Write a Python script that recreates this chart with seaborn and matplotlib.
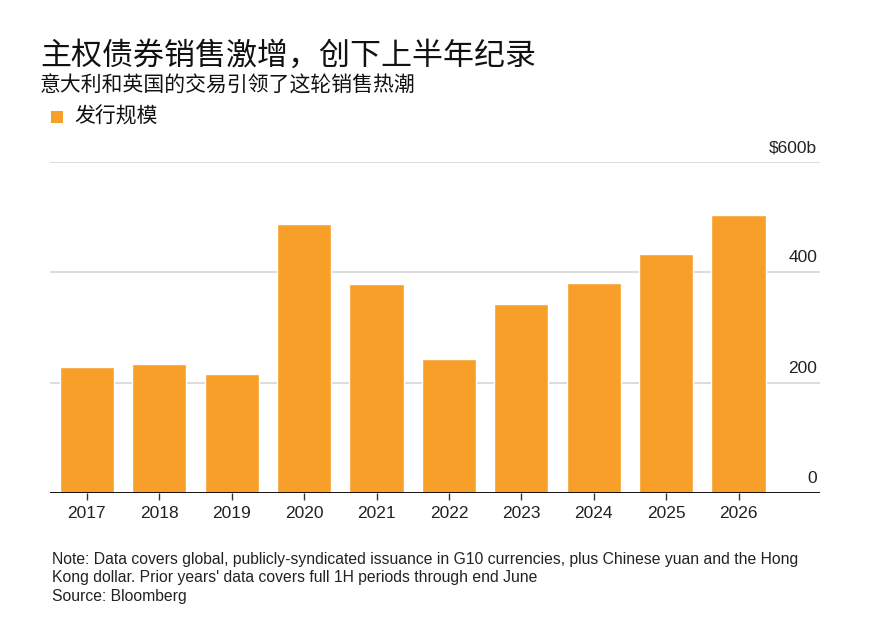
import pandas as pd
import matplotlib.pyplot as plt
import seaborn as sns

# Chart data
years = ['2017', '2018', '2019', '2020', '2021', '2022', '2023', '2024', '2025', '2026']
issuance = [229, 234, 215, 488, 378, 242, 342, 380, 433, 504]
y_ticks = [0, 200, 400, 600]
y_labels = ['0', '200', '400', '$600b']

title = '主权债券销售激增，创下上半年纪录'
subtitle = '意大利和英国的交易引领了这轮销售热潮'
legend_label = '发行规模'
note = ("Note: Data covers global, publicly-syndicated issuance in G10 currencies, plus Chinese yuan and the Hong\n"
        "Kong dollar. Prior years' data covers full 1H periods through end June\n"
        "Source: Bloomberg")

bar_color = '#F89F2A'
cjk = ['Noto Sans CJK SC', 'DejaVu Sans']
narrow = ['Liberation Sans Narrow', 'Liberation Sans', 'DejaVu Sans']

sns.set_style('white')
plt.rcParams['font.family'] = cjk

df = pd.DataFrame({'year': years, 'value': issuance})

fig = plt.figure(figsize=(8.7, 6.27), dpi=100)
ax = fig.add_axes([50 / 870, 1 - 493 / 627, 770 / 870, (493 - 162) / 627])

sns.barplot(data=df, x='year', y='value', color=bar_color, saturation=1, width=0.75, ax=ax, zorder=3)

ax.set_ylim(0, 600)
ax.set_xlim(-0.51, len(years) - 1 + 1.125)
ax.set_xlabel('')
ax.set_ylabel('')

# gridlines
for t in y_ticks[1:]:
    ax.axhline(t, color='#d6d6d6', lw=1.2, zorder=1)
ax.axhline(0, color='black', lw=1.3, zorder=4)

for s in ax.spines.values():
    s.set_visible(False)

ax.set_yticks([])
for t, lab in zip(y_ticks, y_labels):
    ax.annotate(lab, xy=(1, t), xycoords=('axes fraction', 'data'), xytext=(-2, 5), textcoords='offset points',
                ha='right', va='bottom', fontsize=12.5, family=narrow, color='#222222')

ax.tick_params(axis='x', length=5, width=1, color='#333333', bottom=True, labelsize=12.5, pad=4)
for lab in ax.get_xticklabels():
    lab.set_family(narrow)
    lab.set_color('#222222')

# title block
fig.text(40 / 870, 1 - 56 / 627, title, fontsize=22.3, va='center', ha='left', color='#111111')
fig.text(40 / 870, 1 - 86 / 627, subtitle, fontsize=15, va='center', ha='left', color='#111111')
fig.patches.append(plt.Rectangle((51 / 870, 1 - 123 / 627), 12 / 870, 12 / 627, transform=fig.transFigure,
                                 facecolor=bar_color, edgecolor='none'))
fig.text(74 / 870, 1 - 117 / 627, legend_label, fontsize=15, va='center', ha='left', color='#111111')

fig.text(52 / 870, 1 - 552 / 627, note, fontsize=11.3, va='top', ha='left', family=narrow,
         color='#222222', linespacing=1.28)

fig.savefig('out.png', dpi=100)
